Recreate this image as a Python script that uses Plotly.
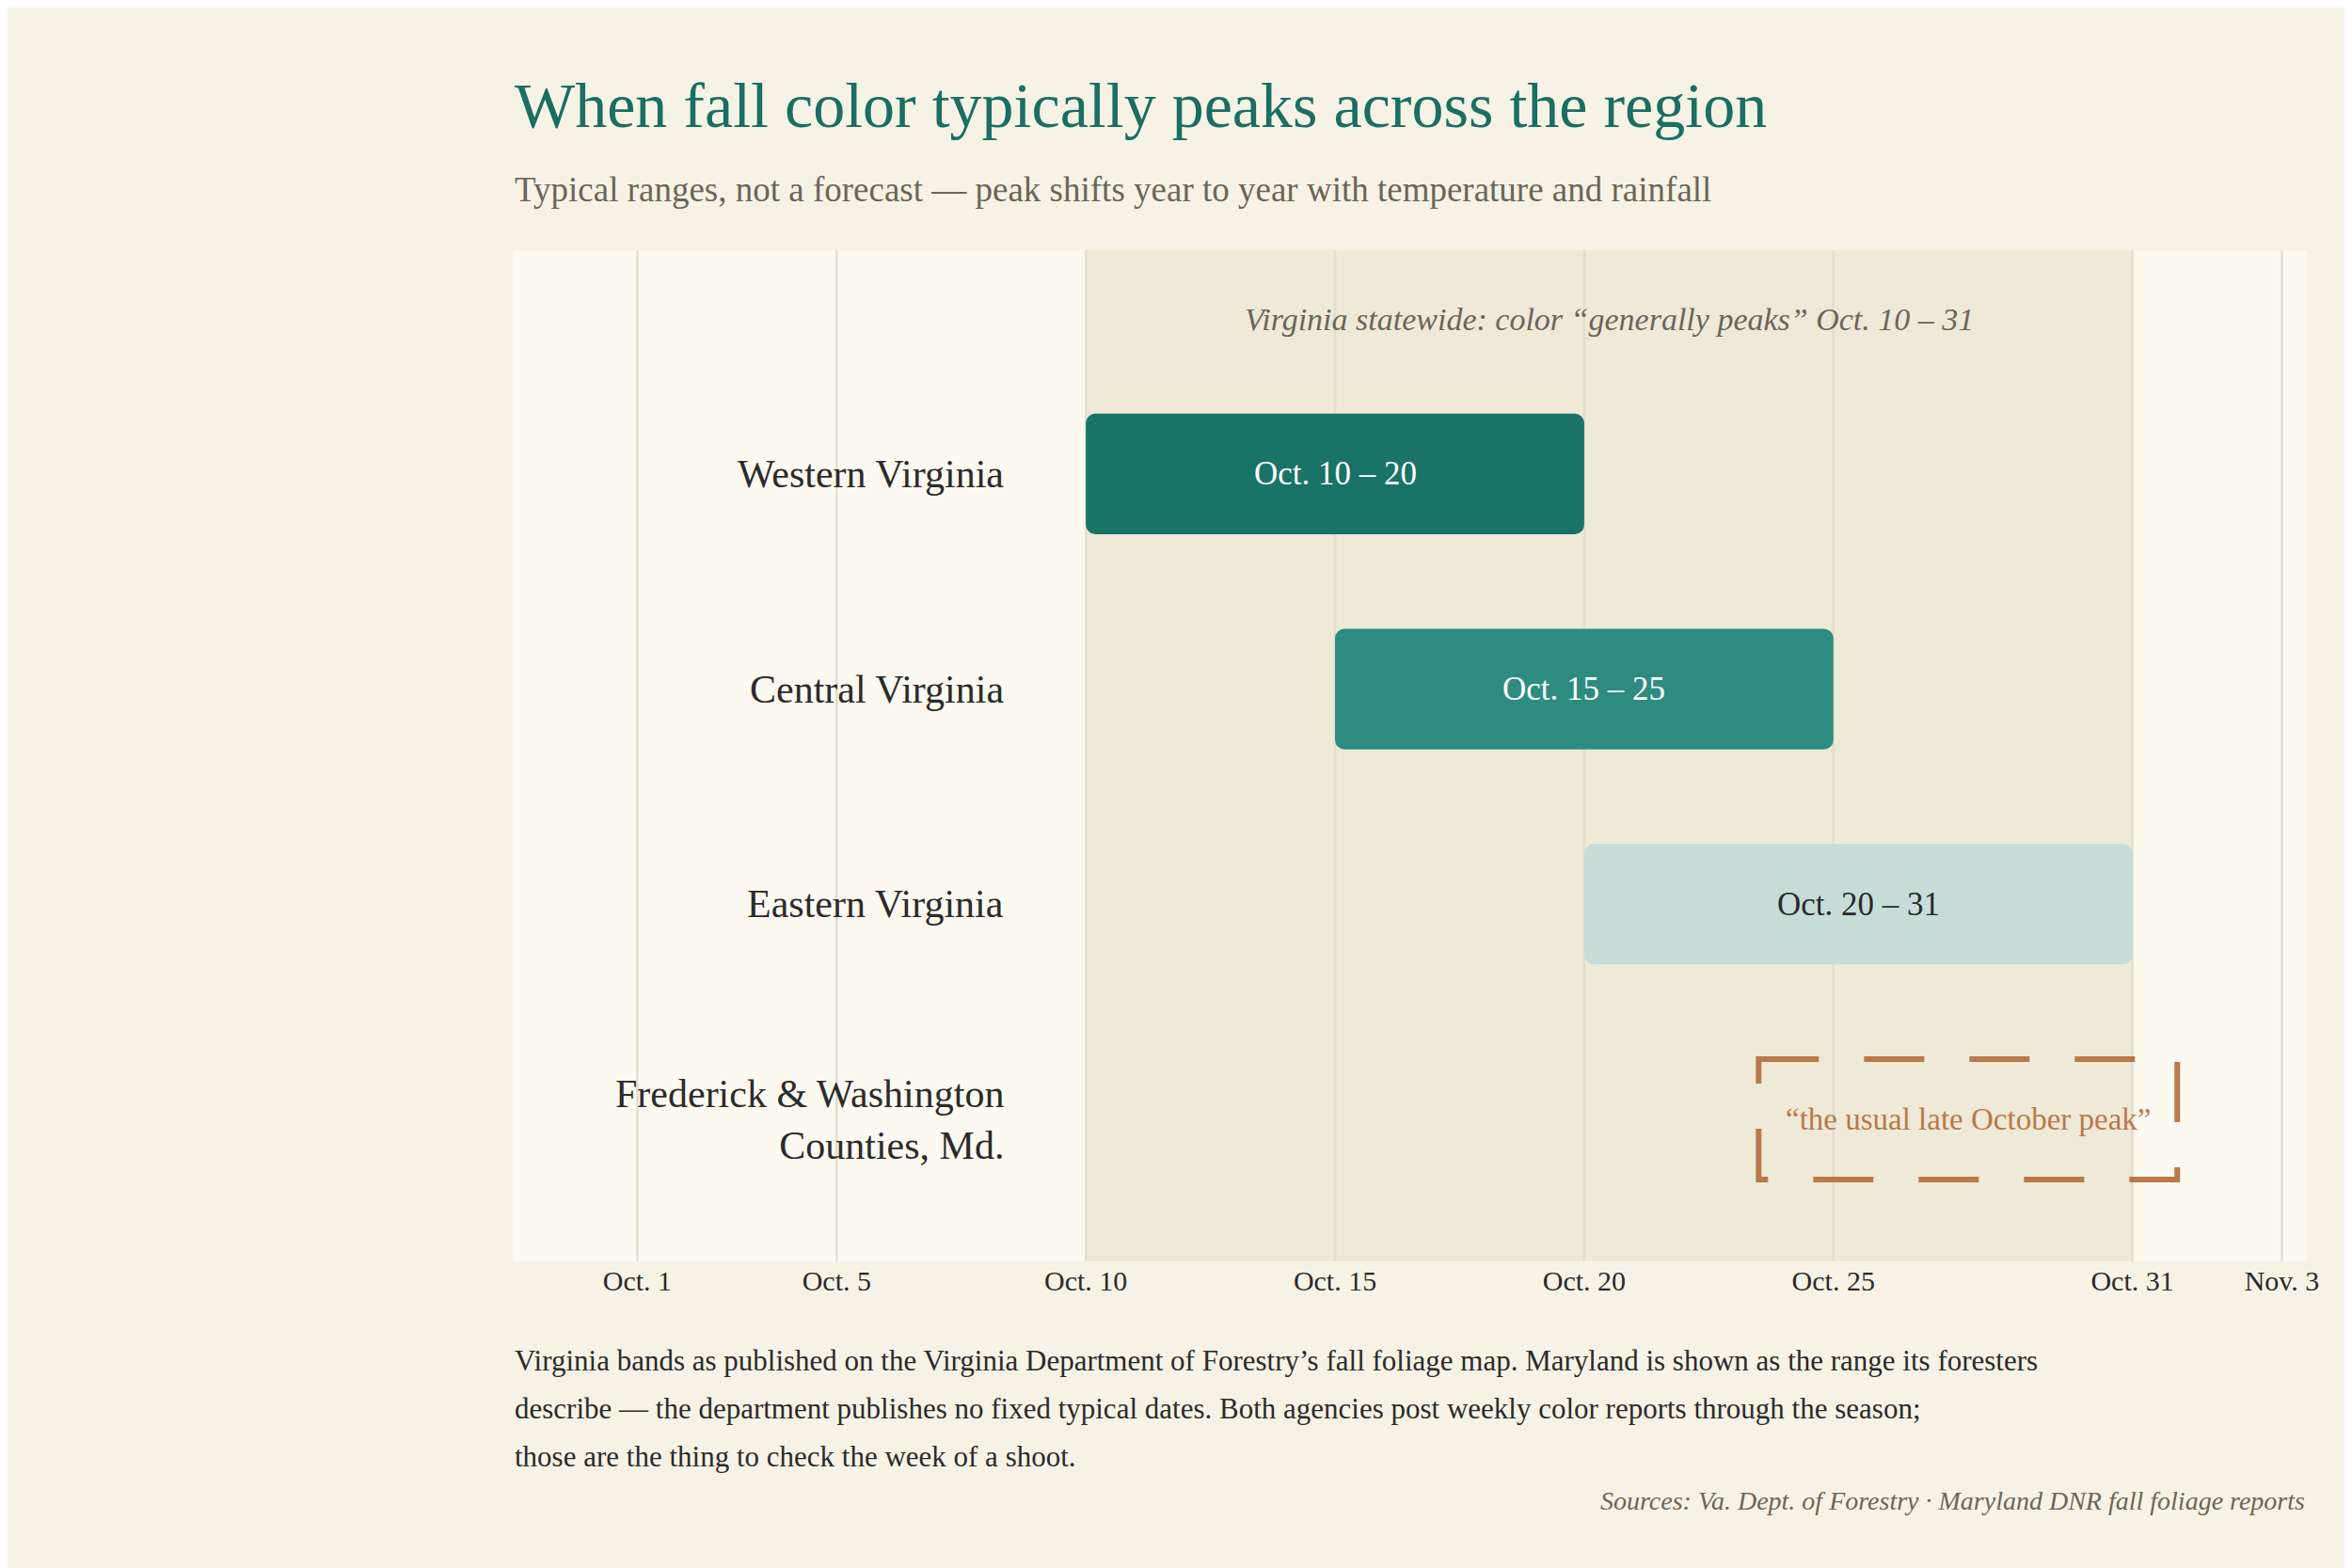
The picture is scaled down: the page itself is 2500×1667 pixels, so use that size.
import plotly.graph_objects as go

regions = ["Western Virginia", "Central Virginia", "Eastern Virginia", "Frederick & Washington<br>Counties, Md."]
starts = [10, 15, 20]
ends = [20, 25, 31]
bar_labels = ["Oct. 10 – 20", "Oct. 15 – 25", "Oct. 20 – 31"]
bar_colors = ["#1a7367", "#2e8b80", "#c6ddd8"]
label_colors = ["#ffffff", "#ffffff", "#2b2b2b"]
md_start, md_end = 23.5, 31.9
md_label = "“the usual late October peak”"
tick_vals = [1, 5, 10, 15, 20, 25, 31, 34]
tick_text = ["Oct. 1", "Oct. 5", "Oct. 10", "Oct. 15", "Oct. 20", "Oct. 25", "Oct. 31", "Nov. 3"]
state_start, state_end = 10, 31

SERIF = "Liberation Serif"
fig = go.Figure()
fig.add_trace(go.Bar(
    y=[0, 1, 2], x=[e - s for s, e in zip(starts, ends)], base=starts,
    orientation="h", width=0.56, marker=dict(color=bar_colors, line=dict(width=0), cornerradius=10),
    hoverinfo="skip", showlegend=False))

shapes = [dict(type="rect", xref="x", yref="paper", x0=state_start, x1=state_end, y0=0, y1=1,
               fillcolor="#efe9d8", line=dict(width=0), layer="below")]
for t in tick_vals:
    shapes.append(dict(type="line", xref="x", yref="paper", x0=t, x1=t, y0=0, y1=1,
                       line=dict(color="#e2dfcc", width=2.5), layer="below"))
shapes.append(dict(type="rect", xref="x", yref="y", x0=md_start, x1=md_end, y0=2.72, y1=3.28,
                   line=dict(color="#b87a4b", width=6, dash="64px,48px"), fillcolor="rgba(0,0,0,0)"))

ann = []
for i, r in enumerate(regions):
    ann.append(dict(x=8.4, y=i, xref="x", yref="y", text=r, showarrow=False, xanchor="right", align="right",
                    font=dict(family=SERIF, size=42, color="#2b2b2b")))
for i in range(3):
    ann.append(dict(x=(starts[i] + ends[i]) / 2, y=i, xref="x", yref="y", text=bar_labels[i], showarrow=False,
                    font=dict(family=SERIF, size=35, color=label_colors[i])))
ann.append(dict(x=(md_start + md_end) / 2, y=3.0, xref="x", yref="y", text=md_label, showarrow=False,
                font=dict(family=SERIF, size=33, color="#b87a4b")))
ann.append(dict(x=20.5, y=-0.72, xref="x", yref="y", text="<i>Virginia statewide: color “generally peaks” Oct. 10 – 31</i>",
                showarrow=False, font=dict(family=SERIF, size=34, color="#6b6658")))
ann.append(dict(x=0, y=1.143, xref="paper", yref="paper", xanchor="left", yanchor="middle", showarrow=False,
                text="When fall color typically peaks across the region", font=dict(family=SERIF, size=68, color="#1a6e62")))
ann.append(dict(x=0, y=1.06, xref="paper", yref="paper", xanchor="left", yanchor="middle", showarrow=False,
                text="Typical ranges, not a forecast — peak shifts year to year with temperature and rainfall",
                font=dict(family=SERIF, size=37, color="#6b6658")))
foot = ["Virginia bands as published on the Virginia Department of Forestry’s fall foliage map. Maryland is shown as the range its foresters",
        "describe — the department publishes no fixed typical dates. Both agencies post weekly color reports through the season;",
        "those are the thing to check the week of a shoot."]
for k, line in enumerate(foot):
    ann.append(dict(x=0, y=-0.098 - 0.0475 * k, xref="paper", yref="paper", xanchor="left", yanchor="middle",
                    showarrow=False, text=line, font=dict(family=SERIF, size=31, color="#2b2b2b")))
ann.append(dict(x=1, y=-0.237, xref="paper", yref="paper", xanchor="right", yanchor="middle", showarrow=False,
                text="<i>Sources: Va. Dept. of Forestry · Maryland DNR fall foliage reports</i>",
                font=dict(family=SERIF, size=28, color="#6b6658")))

fig.update_layout(
    width=2500, height=1667, paper_bgcolor="#f6f3e6", plot_bgcolor="#fcf9f1",
    margin=dict(l=537, r=56, t=258, b=334), shapes=shapes, annotations=ann, showlegend=False,
    xaxis=dict(range=[-1.5, 34.5], tickvals=tick_vals, ticktext=tick_text, showgrid=False, zeroline=False,
               tickfont=dict(family=SERIF, size=30, color="#2b2b2b"), ticks="", fixedrange=True),
    yaxis=dict(range=[3.66, -1.04], showticklabels=False, showgrid=False, zeroline=False, fixedrange=True),
)
fig.write_html("out.html")
